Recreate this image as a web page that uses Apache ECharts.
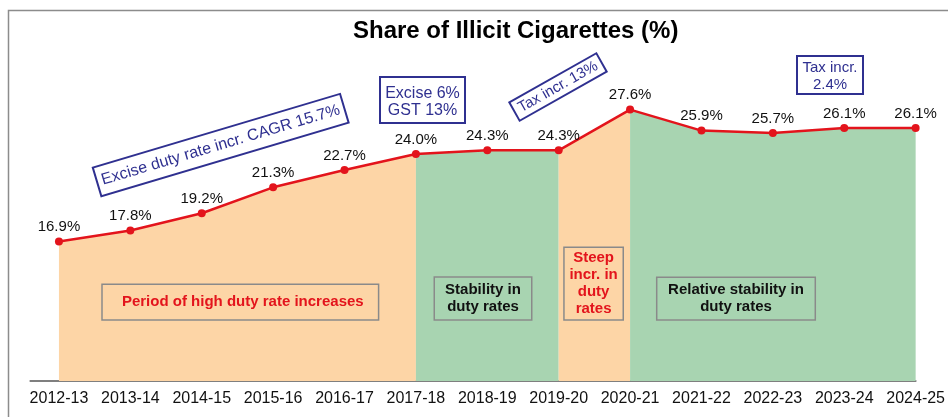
<!DOCTYPE html>
<html>
<head>
<meta charset="utf-8">
<title>Share of Illicit Cigarettes</title>
<script src="https://cdn.jsdelivr.net/npm/echarts@6/dist/echarts.min.js"></script>
<style>
  html, body { margin: 0; padding: 0; background: #fff; }
  #main { width: 948px; height: 417px; }
</style>
</head>
<body>
<div id="main"></div>
<script>
var years = ['2012-13', '2013-14', '2014-15', '2015-16', '2016-17', '2017-18', '2018-19',
             '2019-20', '2020-21', '2021-22', '2022-23', '2023-24', '2024-25'];
var illicitShare = [16.9, 17.8, 19.2, 21.3, 22.7, 24.0, 24.3, 24.3, 27.6, 25.9, 25.7, 26.1, 26.1];
// phases: [first index, last index, colour]
var phaseStart = [0, 5, 7, 8];
var phaseEnd = [5, 7, 8, 12];
var phaseColor = ['#fdd5a6', '#a8d4b1', '#fdd5a6', '#a8d4b1'];

var FONT = '"Liberation Sans", Arial, sans-serif';
var NAVY = '#2f3090';
var RED = '#e3141c';

function pts(a, b) {
    var out = [];
    for (var i = a; i <= b; i++) {
        out.push([i, illicitShare[i]]);
    }
    return out;
}

var series = [];
for (var p = 0; p < phaseStart.length; p++) {
    series.push({
        type: 'line',
        data: pts(phaseStart[p], phaseEnd[p]),
        showSymbol: false,
        silent: true,
        lineStyle: { width: 0, opacity: 0 },
        areaStyle: { color: phaseColor[p], opacity: 1, origin: 'start' },
        z: 1
    });
}
series.push({
    name: 'Share of illicit cigarettes',
    type: 'line',
    data: pts(0, illicitShare.length - 1),
    symbol: 'circle',
    symbolSize: 8,
    itemStyle: { color: RED },
    lineStyle: { color: RED, width: 2.5 },
    label: {
        show: true,
        position: 'top',
        distance: 3,
        fontFamily: FONT,
        fontSize: 15,
        color: '#111',
        formatter: function (params) {
            return params.value[1].toFixed(1) + '%';
        }
    },
    z: 3
});

// box with text, optionally rotated (deg, counter-clockwise)
function box(cx, cy, w, h, deg, text, opt) {
    return {
        type: 'group',
        x: cx,
        y: cy,
        rotation: deg * Math.PI / 180,
        children: [
            {
                type: 'rect',
                z: 100,
                shape: { x: -w / 2, y: -h / 2, width: w, height: h },
                style: { fill: 'none', stroke: opt.stroke, lineWidth: opt.lineWidth }
            },
            {
                type: 'text',
                z: 101,
                x: opt.dx || 0,
                y: opt.dy || 0,
                style: {
                    text: text,
                    fill: opt.color,
                    font: opt.font,
                    lineHeight: opt.lineHeight || 17,
                    align: 'center',
                    verticalAlign: 'middle',
                    textAlign: 'center',
                    textVerticalAlign: 'middle'
                }
            }
        ]
    };
}

var navyBox = { stroke: NAVY, lineWidth: 2, color: NAVY, font: '16px ' + FONT };
var navyBox15 = { stroke: NAVY, lineWidth: 2, color: NAVY, font: '15px ' + FONT };
var redPhase = { stroke: '#8a8a8a', lineWidth: 1.5, color: RED, font: 'bold 15px ' + FONT };
var blackPhase = { stroke: '#8a8a8a', lineWidth: 1.5, color: '#111', font: 'bold 15px ' + FONT };

var myChart = echarts.init(document.getElementById('main'));
var option = {
    backgroundColor: '#fff',
    animation: false,
    title: {
        text: 'Share of Illicit Cigarettes (%)',
        left: 353,
        top: 19,
        padding: 0,
        textStyle: { fontFamily: FONT, fontSize: 24, fontWeight: 'bold', color: '#000' }
    },
    grid: { left: 30.4, right: 32, top: 80, bottom: 36 },
    xAxis: {
        type: 'value',
        min: -0.4,
        max: 12,
        interval: 0.2,
        splitLine: { show: false },
        axisTick: { show: false },
        axisLine: { show: true, lineStyle: { color: '#7f7f7f', width: 2 } },
        axisLabel: {
            show: true,
            margin: 10,
            fontFamily: FONT,
            fontSize: 16,
            color: '#111',
            showMinLabel: true,
            showMaxLabel: true,
            formatter: function (v) {
                var i = Math.round(v);
                if (Math.abs(v - i) > 1e-6 || i < 0 || i >= years.length) return '';
                return years[i];
            }
        }
    },
    yAxis: {
        type: 'value',
        min: 5.6,
        max: 30,
        show: false,
        splitLine: { show: false }
    },
    series: series,
    graphic: [
        {
            type: 'polyline',
            shape: { points: [[8.5, 417], [8.5, 10.5], [948, 10.5]] },
            style: { fill: 'none', stroke: '#8c8c8c', lineWidth: 1.5 },
            z: 100
        },
        box(220.7, 145.1, 258, 30, 16.6, 'Excise duty rate incr. CAGR 15.7%', navyBox),
        box(422.5, 100, 85, 46, 0, 'Excise 6%\nGST 13%', Object.assign({ dy: 2 }, navyBox)),
        box(558, 87, 100, 21, 29.5, 'Tax incr. 13%', navyBox15),
        box(830, 75, 66, 38, 0, 'Tax incr.\n2.4%', Object.assign({ dy: 1.7 }, navyBox15)),
        box(240.3, 302.2, 276.6, 35.7, 0, 'Period of high duty rate increases', Object.assign({ dx: 2.5 }, redPhase)),
        box(483, 298.5, 97.5, 43, 0, 'Stability in\nduty rates', blackPhase),
        box(593.6, 283.7, 59.3, 72.7, 0, 'Steep\nincr. in\nduty\nrates', redPhase),
        box(736, 298.7, 158.6, 42.7, 0, 'Relative stability in\nduty rates', blackPhase)
    ]
};

myChart.setOption(option);
window.onresize = myChart.resize;
</script>
</body>
</html>
